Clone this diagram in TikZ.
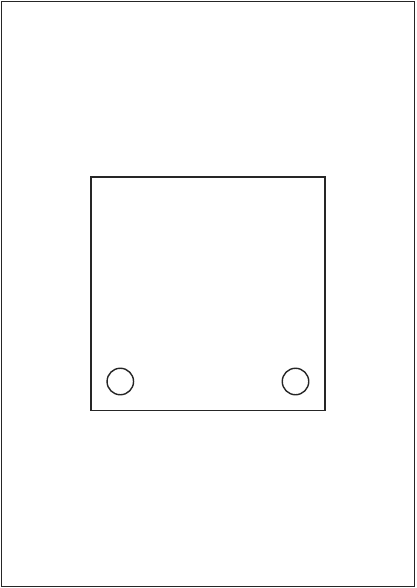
\documentclass[tikz,border=0pt]{standalone}
\begin{document}
\begin{tikzpicture}[x=1pt,y=-1pt,
  part/.style={draw=black!85,line width=1.4pt}]
\useasboundingbox (0,0) rectangle (416,588);
\fill[white] (0,0) rectangle (416,588);
\draw[part] (1.5,1.5) rectangle (414.5,586.5);
\draw[part] (91,177) rectangle (325,410.5);
\node[part,circle,minimum size=26.5pt,inner sep=0pt] (h1) at (120.3,381.5) {};
\node[part,circle,minimum size=26.5pt,inner sep=0pt] (h2) at (295.5,381.5) {};
\end{tikzpicture}
\end{document}
